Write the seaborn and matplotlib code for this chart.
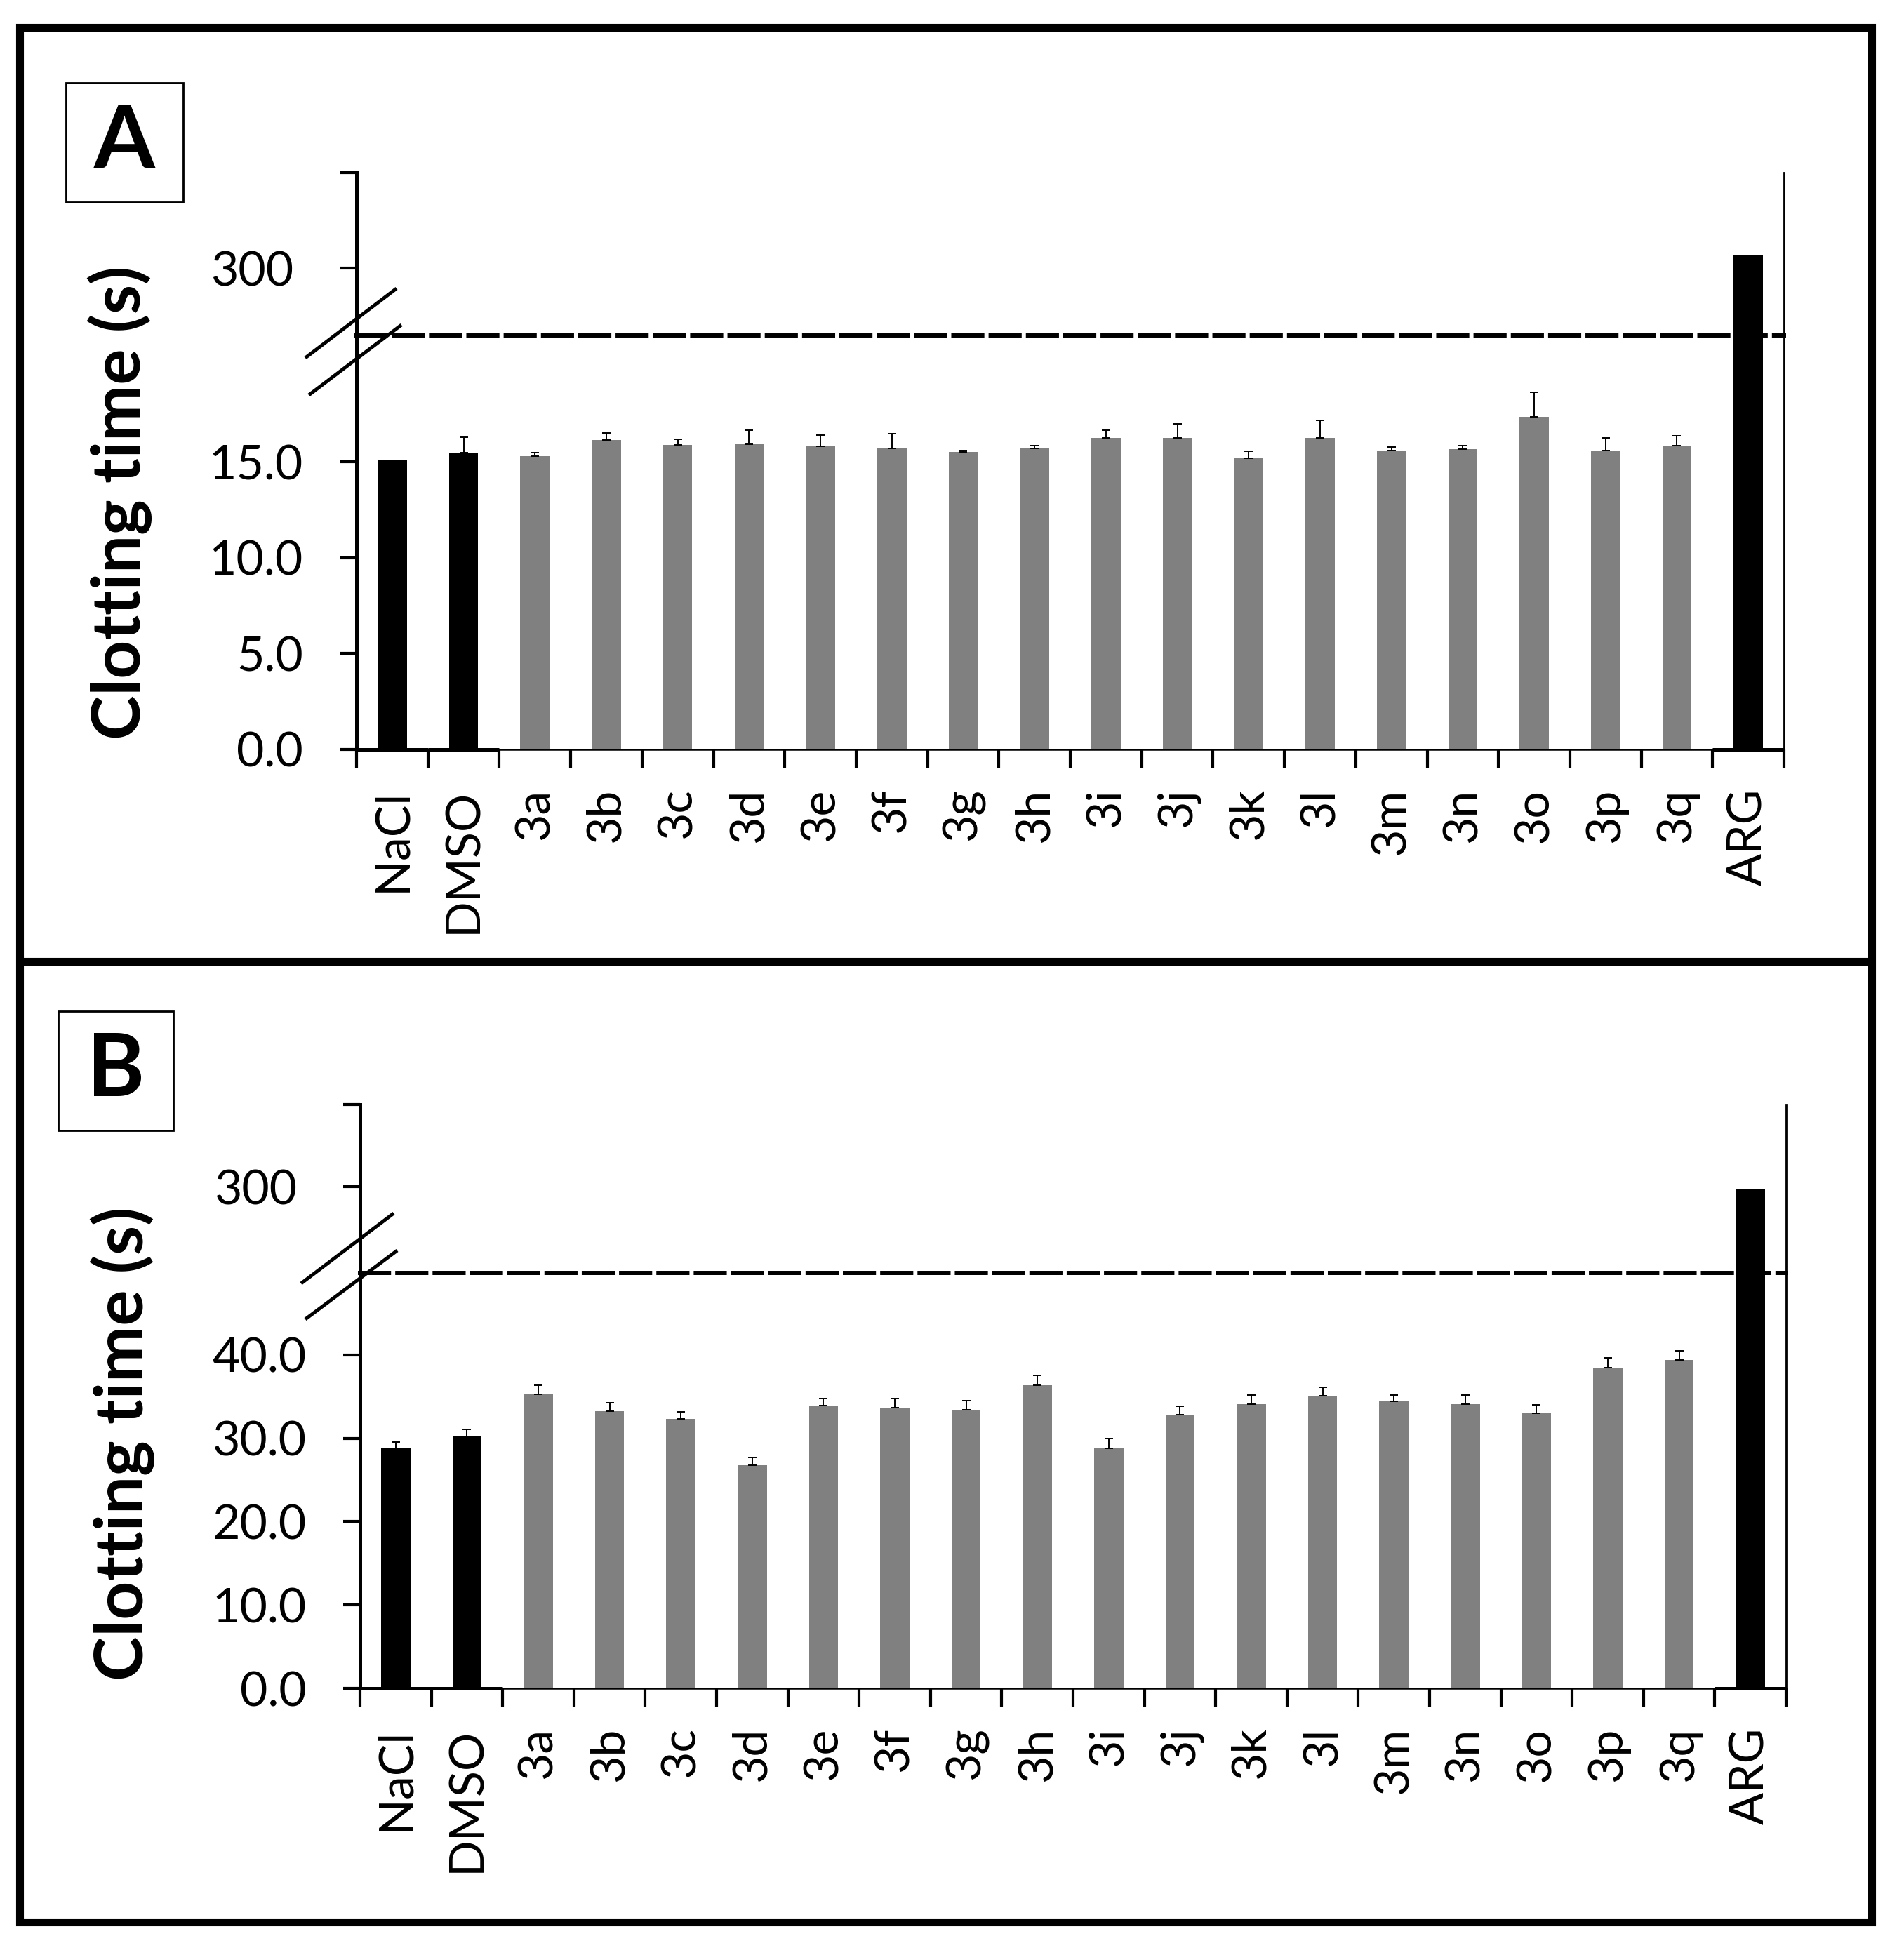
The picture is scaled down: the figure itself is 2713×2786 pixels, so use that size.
import numpy as np
import pandas as pd
import matplotlib
matplotlib.use('Agg')
import matplotlib.pyplot as plt
from matplotlib.lines import Line2D
from matplotlib.patches import Rectangle
from matplotlib.ticker import FormatStrFormatter
import seaborn as sns

# categories and colours
categories = ['NaCl', 'DMSO', '3a', '3b', '3c', '3d', '3e', '3f', '3g', '3h',
              '3i', '3j', '3k', '3l', '3m', '3n', '3o', '3p', '3q', 'ARG']
bar_colors = ['#000000', '#000000'] + ['#808080'] * 17 + ['#000000']

# panel A (clotting time, s)
time_a = [15.08, 15.49, 15.29, 16.13, 15.88, 15.93, 15.80, 15.70, 15.52, 15.69,
          16.25, 16.25, 15.20, 16.25, 15.58, 15.66, 17.34, 15.58, 15.87, 300.7]
err_a = [0.0, 0.80, 0.20, 0.39, 0.30, 0.74, 0.59, 0.77, 0.06, 0.18,
         0.42, 0.72, 0.36, 0.91, 0.19, 0.21, 1.31, 0.67, 0.51, 0.0]

# panel B (clotting time, s)
time_b = [28.76, 30.26, 35.26, 33.23, 32.33, 26.80, 33.90, 33.70, 33.46, 36.35,
          28.76, 32.86, 34.14, 35.08, 34.40, 34.14, 33.00, 38.50, 39.40, 299.7]
err_b = [0.83, 0.83, 1.10, 1.00, 0.83, 0.90, 0.87, 1.05, 1.10, 1.20,
         1.20, 1.00, 1.10, 1.05, 0.83, 1.10, 1.05, 1.15, 1.10, 0.0]

ticks_a = [0.0, 5.0, 10.0, 15.0]
ticks_b = [0.0, 10.0, 20.0, 30.0, 40.0]

W, H = 2713, 2786

sns.set_style('white', {'axes.edgecolor': 'black', 'text.color': 'black',
                        'xtick.color': 'black', 'ytick.color': 'black',
                        'axes.labelcolor': 'black'})
plt.rcParams['font.family'] = ['Lato', 'DejaVu Sans']

fig = plt.figure(figsize=(W / 100, H / 100), dpi=100)
fig.patch.set_facecolor('white')


def px_axes(x0, x1, y0, y1):
    ax = fig.add_axes([x0 / W, 1 - y1 / H, (x1 - x0) / W, (y1 - y0) / H])
    ax.set_facecolor('none')
    return ax


def fig_line(p0, p1, lw):
    fig.add_artist(Line2D([p0[0] / W, p1[0] / W], [1 - p0[1] / H, 1 - p1[1] / H],
                          transform=fig.transFigure, color='black', lw=lw,
                          solid_capstyle='butt'))


palette = dict(zip(categories, bar_colors))
n = len(categories)


def draw_panel(top_ax, low_ax, values, errors, low_max, low_ticks, top_lim, top_ticks):
    frame = pd.DataFrame({'compound': categories, 'time': values})
    for ax in (top_ax, low_ax):
        sns.barplot(data=frame, x='compound', y='time', hue='compound',
                    order=categories, hue_order=categories, palette=palette,
                    width=0.41, saturation=1, errorbar=None, legend=False,
                    linewidth=0, ax=ax)
        ax.set_xlim(-0.5, n - 0.5)
        ax.set_xlabel('')
        ax.set_ylabel('')
        ax.spines['top'].set_visible(False)
        ax.spines['left'].set_linewidth(3.6)
        ax.spines['right'].set_linewidth(2.0)
        ax.tick_params(axis='y', which='major', direction='out', length=17,
                       width=3, labelsize=49, left=True)

    # error bars (upper side only) on the compounds shown in the lower part
    idx = np.arange(n - 1)
    vals = np.array(values[:-1])
    errs = np.array(errors[:-1])
    low_ax.errorbar(idx, vals, yerr=[np.zeros_like(errs), errs], fmt='none',
                    ecolor='black', elinewidth=1.4, capsize=4, capthick=1.4,
                    zorder=3)

    # upper part: the ARG bar sits over the dashed break line
    top_ax.set_ylim(*top_lim)
    top_ax.set_yticks(top_ticks)
    top_ax.set_yticklabels(['300', ''])
    top_ax.tick_params(axis='y', pad=48)
    top_ax.tick_params(axis='x', bottom=False, labelbottom=False)
    top_ax.spines['bottom'].set_linewidth(4.3)
    top_ax.spines['bottom'].set_linestyle((0, (6.9, 2.0)))
    for bar in top_ax.patches:
        bar.set_zorder(3)

    # lower part
    low_ax.set_ylim(0, low_max)
    low_ax.set_yticks(low_ticks)
    low_ax.yaxis.set_major_formatter(FormatStrFormatter('%.1f'))
    low_ax.tick_params(axis='y', pad=38)
    low_ax.spines['bottom'].set_linewidth(1.8)
    low_ax.set_xticks(range(n))
    low_ax.set_xticklabels(categories, rotation=90, va='top', ha='center')
    low_ax.set_xticks(np.arange(-0.5, n, 1.0), minor=True)
    low_ax.tick_params(axis='x', which='major', length=0, pad=40, labelsize=49)
    low_ax.tick_params(axis='x', which='minor', direction='out', length=19,
                       width=3, bottom=True)
    # heavier baseline under the control bars
    for i, c in enumerate(bar_colors):
        if c == '#000000':
            low_ax.hlines(0, i - 0.5, i + 0.5, colors='black', lw=3.6,
                          zorder=4, clip_on=False)


# panel A
top_a = px_axes(508, 2542, 246, 478)
low_a = px_axes(508, 2542, 478, 1068)
draw_panel(top_a, low_a, time_a, err_a, 21.6, ticks_a, (296.5, 305.0), [300, 305])

# panel B
top_b = px_axes(513, 2545, 1574, 1814)
low_b = px_axes(513, 2545, 1814, 2406)
draw_panel(top_b, low_b, time_b, err_b, 49.85, ticks_b, (289.5, 310.0), [300, 310])

# axis break marks
fig_line((435, 510), (565, 411), 3.6)
fig_line((440, 563), (572, 463), 3.6)
fig_line((429, 1829), (561, 1729), 3.6)
fig_line((435, 1880), (566, 1782), 3.6)

# y labels
fig.text(171 / W, 1 - 716 / H, 'Clotting time (s)', rotation=90, ha='center',
         va='center', fontsize=69, fontweight='bold')
fig.text(175 / W, 1 - 2057 / H, 'Clotting time (s)', rotation=90, ha='center',
         va='center', fontsize=69, fontweight='bold')

# panel letters in boxes
for (x0, x1, y0, y1, letter) in [(94, 261, 118, 288, 'A'), (83, 247, 1441, 1611, 'B')]:
    fig.add_artist(Rectangle((x0 / W, 1 - y1 / H), (x1 - x0) / W, (y1 - y0) / H,
                             transform=fig.transFigure, fill=False, lw=2.0,
                             edgecolor='black'))
    fig.text((x0 + x1) / 2 / W, 1 - (y0 + y1) / 2 / H, letter, ha='center',
             va='center', fontsize=90, fontweight='bold')

# outer frame and divider
fig.add_artist(Rectangle((28 / W, 1 - 2738.5 / H), (2667 - 28) / W, (2738.5 - 38.5) / H,
                         transform=fig.transFigure, fill=False, lw=8,
                         edgecolor='black'))
fig_line((28, 1370), (2667, 1370), 8)

fig.savefig('out.png', dpi=100, facecolor='white')
